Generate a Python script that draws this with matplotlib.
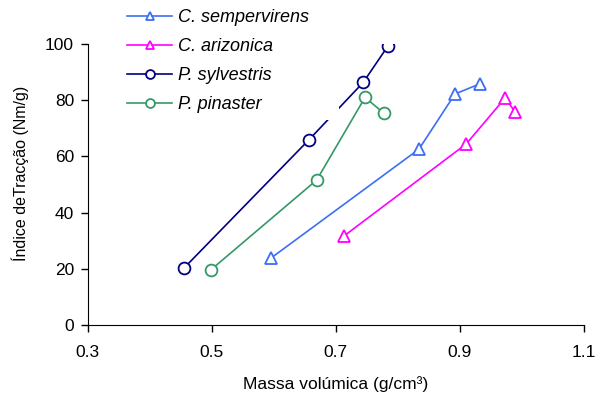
import matplotlib
matplotlib.use("Agg")
import matplotlib.pyplot as plt
from matplotlib.patches import Rectangle

plt.rcParams['font.family'] = ['Liberation Sans', 'DejaVu Sans']

# Massa volumica (g/cm3) e indice de traccao (Nm/g)
semp_x = [0.595, 0.834, 0.892, 0.932]
semp_y = [23.8, 62.6, 82.2, 85.8]
ariz_x = [0.713, 0.910, 0.973, 0.989]
ariz_y = [31.7, 64.4, 80.8, 75.8]
sylv_x = [0.455, 0.656, 0.744, 0.784]
sylv_y = [20.3, 65.8, 86.3, 99.3]
pina_x = [0.498, 0.669, 0.747, 0.777]
pina_y = [19.6, 51.6, 81.0, 75.4]

labels = ["C. sempervirens", "C. arizonica", "P. sylvestris", "P. pinaster"]
xticks = [0.3, 0.5, 0.7, 0.9, 1.1]
yticks = [0, 20, 40, 60, 80, 100]

fig = plt.figure(figsize=(6.02, 3.96), dpi=100)
ax = fig.add_axes([0.146, 0.179, 0.824, 0.710])

series = [
    (semp_x, semp_y, "#3D6EF5", "^"),
    (ariz_x, ariz_y, "#FF00FF", "^"),
    (sylv_x, sylv_y, "#000080", "o"),
    (pina_x, pina_y, "#339966", "o"),
]
for (xs, ys, c, m), lab in zip(series, labels):
    ax.plot(xs, ys, color=c, lw=1.2, marker=m, markersize=8.5,
            markerfacecolor="white", markeredgecolor=c, markeredgewidth=1.3,
            label=lab)

ax.set_xlim(0.3, 1.1)
ax.set_ylim(0, 100)
ax.set_xticks(xticks)
ax.set_xticklabels([f"{v:.1f}" for v in xticks])
ax.set_yticks(yticks)
ax.tick_params(direction="out", length=5, width=1, labelsize=12.5)
ax.tick_params(axis="x", pad=9)
ax.tick_params(axis="y", pad=5)
for s in ["top", "right"]:
    ax.spines[s].set_visible(False)
ax.set_xlabel("Massa volúmica (g/cm³)", fontsize=12.5, labelpad=12)
ax.set_ylabel("Índice deTracção (Nm/g)", fontsize=11.5, labelpad=10)
ax.yaxis.set_label_coords(-0.118, 0.54)

# legend area: white box (like Excel) that hides part of the lines
box = Rectangle((0.201, 1 - 120 / 396), (339 - 121) / 602, 120 / 396,
                transform=fig.transFigure, facecolor="white", edgecolor="none", zorder=3)
fig.add_artist(box)

handles, labs = ax.get_legend_handles_labels()
leg = fig.legend(handles, labs, loc="upper left", bbox_to_anchor=(0.201, 0.992),
                 frameon=False, prop={'style': 'italic', 'size': 13}, markerscale=0.75,
                 handlelength=2.5, handletextpad=0.33, labelspacing=0.66,
                 borderpad=0.35, borderaxespad=0)
leg.set_zorder(5)

fig.savefig("out.png", dpi=100)
